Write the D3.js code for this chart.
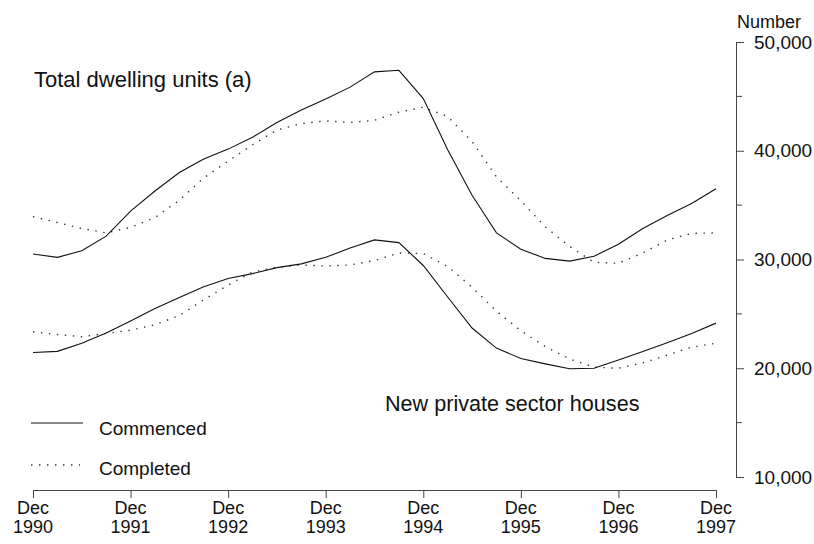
<!DOCTYPE html>
<html>
<head>
<meta charset="utf-8">
<script src="https://cdn.jsdelivr.net/npm/d3@7"></script>
<style>
  body { margin: 0; background: #fff; }
  svg text { font-family: Arial, "Liberation Sans", sans-serif; fill: #111; }
</style>
</head>
<body>
<div id="chart"></div>
<script>
// quarterly, Dec 1990 .. Dec 1997
var quarters = d3.range(0, 29)
var yearLabels = ['1990', '1991', '1992', '1993', '1994', '1995', '1996', '1997']

var totalCommenced = [30500, 30200, 30800, 32150, 34450, 36300, 38000, 39250, 40150, 41250,
  42600, 43750, 44750, 45850, 47250, 47400, 44800, 40100, 35900, 32450,
  30950, 30100, 29850, 30300, 31400, 32850, 34050, 35150, 36500]
var totalCompleted = [33950, 33400, 32850, 32450, 32950, 33850, 35450, 37500, 39050, 40550,
  41900, 42500, 42750, 42600, 42800, 43550, 44000, 43150, 40850, 37600,
  35400, 33000, 31200, 29750, 29650, 30600, 31800, 32400, 32450]
var housesCommenced = [21450, 21550, 22300, 23250, 24350, 25500, 26500, 27500, 28250, 28700,
  29250, 29600, 30200, 31050, 31800, 31550, 29450, 26550, 23700, 21850,
  20900, 20400, 19950, 20000, 20750, 21550, 22350, 23200, 24150]
var housesCompleted = [23350, 23100, 22900, 23200, 23500, 24000, 24850, 26300, 27650, 28850,
  29300, 29500, 29400, 29500, 29900, 30600, 30550, 29350, 27450, 25250,
  23450, 22000, 20850, 20100, 20000, 20500, 21200, 21950, 22300]

var majorTicks = [10000, 20000, 30000, 40000, 50000]
var minorTicks = [15000, 25000, 35000, 45000]

var w = 814
var h = 544

var svg = d3.select('#chart').append('svg')
  .attr('width', w)
  .attr('height', h)

var x = d3.scaleLinear().domain([0, 28]).range([33, 716])
var y = d3.scaleLinear().domain([10000, 50000]).range([477, 42])

var line = d3.line()
  .x(function (d, i) { return x(i) })
  .y(function (d) { return y(d) })

function drawSeries (data, dotted) {
  var p = svg.append('path')
    .datum(data)
    .attr('d', line)
    .attr('fill', 'none')
    .attr('stroke', dotted ? '#333' : '#111')
    .attr('stroke-width', dotted ? 1.4 : 1.1)
  if (dotted) p.attr('stroke-dasharray', '1.4,6.6')
}

drawSeries(totalCompleted, true)
drawSeries(totalCommenced, false)
drawSeries(housesCompleted, true)
drawSeries(housesCommenced, false)

// x axis
var xAxis = d3.axisBottom(x)
  .tickValues(quarters.filter(function (q) { return q % 4 === 0 }))
  .tickSize(8)
  .tickSizeOuter(0)
  .tickFormat('')
var gx = svg.append('g').attr('transform', 'translate(0,490)').call(xAxis)
gx.select('.domain').attr('stroke', '#444')
gx.selectAll('.tick line').attr('stroke', '#444')

yearLabels.forEach(function (yr, i) {
  var t = svg.append('text')
    .attr('x', x(i * 4))
    .attr('text-anchor', 'middle')
    .style('font-size', '18px')
  t.append('tspan').attr('x', x(i * 4)).attr('y', 514).text('Dec')
  t.append('tspan').attr('x', x(i * 4)).attr('y', 533).text(yr)
})

// y axis on right
var yAxis = d3.axisRight(y)
  .tickValues(majorTicks)
  .tickSize(8)
  .tickSizeOuter(0)
  .tickPadding(10)
  .tickFormat(d3.format(','))
var gy = svg.append('g').attr('transform', 'translate(736,0)').call(yAxis)
gy.select('.domain').attr('stroke', '#444')
gy.selectAll('.tick line').attr('stroke', '#444')
gy.selectAll('.tick text')
  .style('font-size', '19px')
  .style('font-family', 'Arial, "Liberation Sans", sans-serif')
  .attr('fill', '#111')

minorTicks.forEach(function (v) {
  svg.append('line')
    .attr('x1', 736).attr('x2', 742)
    .attr('y1', y(v)).attr('y2', y(v))
    .attr('stroke', '#444')
})

svg.append('text')
  .attr('x', 737).attr('y', 28)
  .style('font-size', '18px')
  .text('Number')

// annotations
svg.append('text')
  .attr('x', 34).attr('y', 87)
  .style('font-size', '22px')
  .text('Total dwelling units (a)')

svg.append('text')
  .attr('x', 385).attr('y', 411)
  .style('font-size', '21.6px')
  .text('New private sector houses')

// legend
svg.append('line')
  .attr('x1', 31).attr('x2', 83).attr('y1', 423).attr('y2', 423)
  .attr('stroke', '#111').attr('stroke-width', 1.1)
svg.append('text')
  .attr('x', 99).attr('y', 435)
  .style('font-size', '19px')
  .text('Commenced')

svg.append('line')
  .attr('x1', 31).attr('x2', 80).attr('y1', 465).attr('y2', 465)
  .attr('stroke', '#333').attr('stroke-width', 1.4)
  .attr('stroke-dasharray', '1.4,6.6')
svg.append('text')
  .attr('x', 99).attr('y', 475)
  .style('font-size', '19px')
  .text('Completed')
</script>
</body>
</html>
